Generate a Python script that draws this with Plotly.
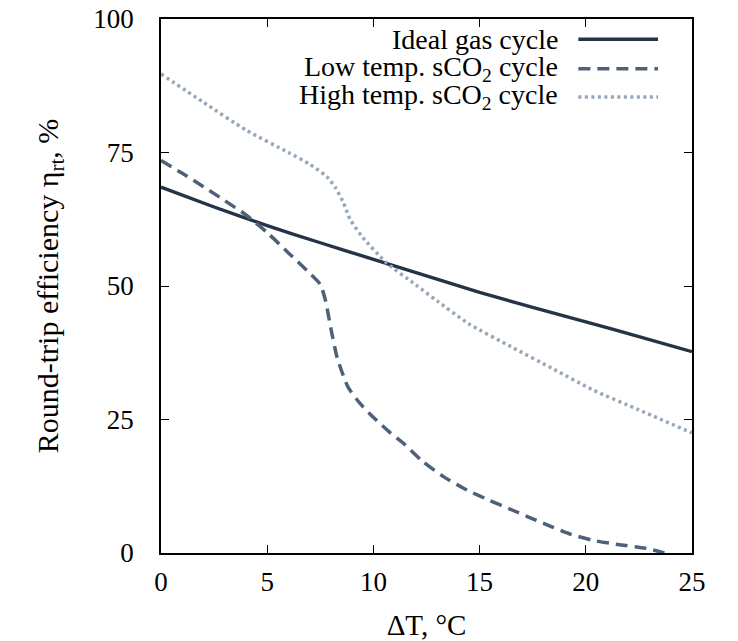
import plotly.graph_objects as go

# ---- data ----
ideal_x = [0, 2.5, 5, 7.5, 10, 12.5, 15, 17.5, 20, 22.5, 25]
ideal_y = [68.5, 64.8, 61.3, 58.1, 55.0, 51.9, 48.8, 46.0, 43.3, 40.5, 37.7]

low_x = [0, 1, 2, 3, 4, 5, 6, 7, 7.5, 7.75, 8.0, 8.3, 8.8, 9.35, 10, 10.8, 11.4,
         12.3, 13.3, 14.4, 15.5, 16.5, 17.5, 18.4, 19.3, 20.3, 21.5, 22.8, 23.7]
low_y = [73.5, 71.1, 68.6, 66.0, 63.3, 60.0, 56.2, 52.4, 50.3, 47.2, 42.0, 36.5, 31.1, 28.1, 25.4, 22.5, 20.6,
         17.2, 14.3, 11.8, 9.8, 8.1, 6.4, 4.9, 3.5, 2.4, 1.6, 0.9, 0.0]

high_x = [0, 2, 4, 6, 7, 7.8, 8.2, 8.6, 8.9, 9.5, 10.6, 12, 13, 14.5, 16.5, 18.5, 20.3, 22.5, 25]
high_y = [89.7, 84.4, 79.2, 75.0, 72.8, 70.5, 68.5, 65.5, 62.5, 59.1, 54.4, 50.2, 47.2, 42.9, 38.6, 34.4, 30.6, 26.8, 22.5]

names = ["Ideal gas cycle", "Low temp. sCO<sub>2</sub> cycle", "High temp. sCO<sub>2</sub> cycle"]
colors = ["#243447", "#4e6178", "#95a7b9"]
dashes = ["solid", "12px,7px", "3px,3.5px"]
widths = [3.4, 3.5, 3.5]

xticks = [0, 5, 10, 15, 20, 25]
yticks = [0, 25, 50, 75, 100]

FONT = "Liberation Serif"

fig = go.Figure()
for xs, ys, n, c, d, w in zip([ideal_x, low_x, high_x], [ideal_y, low_y, high_y], names, colors, dashes, widths):
    fig.add_trace(go.Scatter(x=xs, y=ys, mode="lines", name=n,
                             line=dict(color=c, dash=d, width=w, shape="spline", smoothing=0.6),
                             showlegend=False))

# custom legend (text on left, key on right)
rows_y = [0.962, 0.907, 0.854]
for n, c, d, w, yy in zip(names, colors, dashes, widths, rows_y):
    fig.add_annotation(x=0.751, y=yy, xref="paper", yref="paper", text=n, showarrow=False,
                       xanchor="right", yanchor="middle", font=dict(family=FONT, size=28, color="black"))
    fig.add_shape(type="line", xref="paper", yref="paper", x0=0.786, x1=0.936, y0=yy, y1=yy,
                  line=dict(color=c, dash=d, width=w))

axis_common = dict(showgrid=False, zeroline=False, showline=True, linecolor="black", linewidth=1.5,
                   mirror="ticks", ticks="inside", ticklen=8, tickwidth=1, tickcolor="black",
                   automargin=False,
                   tickfont=dict(family=FONT, size=27, color="black"))

fig.update_xaxes(range=[0, 25], tickvals=xticks, ticktext=[str(v) for v in xticks],
                 title=dict(text="ΔT, °C", font=dict(family=FONT, size=29, color="black"), standoff=24),
                 ticklabelstandoff=4, **axis_common)
fig.update_yaxes(range=[0, 100], tickvals=yticks, ticktext=[str(v) for v in yticks],
                 title=dict(text="Round-trip efficiency η<sub>rt</sub>, %", font=dict(family=FONT, size=30, color="black"), standoff=26),
                 ticklabelstandoff=20, **axis_common)

fig.update_layout(width=738, height=641, margin=dict(l=161, r=46, t=19, b=88),
                  plot_bgcolor="white", paper_bgcolor="white", showlegend=False)

fig.write_html("out.html")
